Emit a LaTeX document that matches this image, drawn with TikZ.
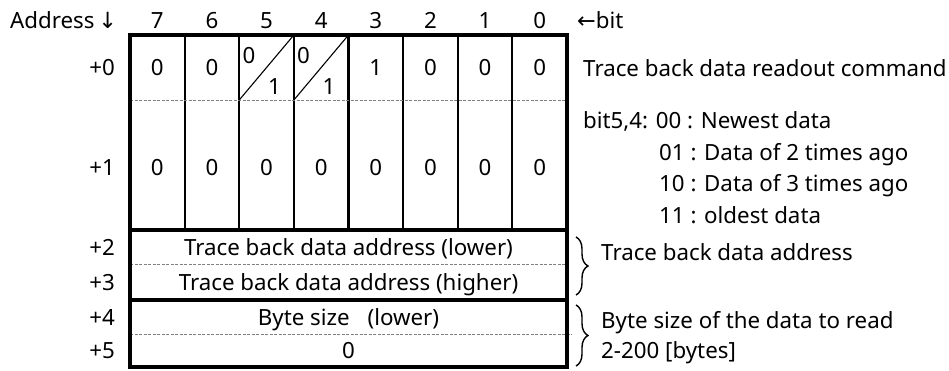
\documentclass[tikz,border=0pt]{standalone}
\usepackage{fontspec}
\setmainfont{Noto Sans}
\newfontfamily\arr{DejaVu Sans}
\usetikzlibrary{decorations.pathreplacing}
\begin{document}
\begin{tikzpicture}[x=1pt,y=-1pt,
  font=\fontsize{22.3}{25}\selectfont,
  lbl/.style={inner sep=0pt, anchor=base},
  lblw/.style={inner sep=0pt, anchor=base west},
  lble/.style={inner sep=0pt, anchor=base east},
  outer/.style={line width=3.4pt},
  inner/.style={line width=2.2pt},
  dashline/.style={draw=gray, line width=1pt, dash pattern=on 3pt off 1.5pt},
  bracey/.style={decorate, decoration={brace, amplitude=12pt, aspect=0.5}, line width=1.4pt}]
\useasboundingbox (0,0) rectangle (949,370);
% header
\node[lblw] (addr) at (10,28) {Address\,{\arr↓}};
\foreach \i/\b in {0/7,1/6,2/5,3/4,4/3,5/2,6/1,7/0}{
  \node[lbl] (b\b) at ({130+54.625*\i+27.3},28) {\b};
}
\node[lblw] (bitlbl) at (577,28) {{\arr←}bit};
% grid
\foreach \i in {1,...,7}{
  \draw[inner] ({130+54.625*\i},35) -- ({130+54.625*\i},230);
}
\draw[dashline] (130,100) -- (567,100);
\draw[dashline] (130,264) -- (567,264);
\draw[dashline] (130,334) -- (572,334);
\draw[line width=1.1pt] (239.25,100) -- (293.875,35);
\draw[line width=1.1pt] (293.875,100) -- (348.5,35);
\draw[outer] (130,230) -- (567,230);
\draw[outer] (130,300) -- (567,300);
\draw[outer] (130,35) rectangle (567,367);
% row labels
\node[lble] (r0) at (115,75.5) {+0};
\node[lble] (r1) at (115,175) {+1};
\node[lble] (r2) at (115,255) {+2};
\node[lble] (r3) at (115,290) {+3};
\node[lble] (r4) at (115,325) {+4};
\node[lble] (r5) at (115,358) {+5};
% row 0
\foreach \i/\v in {0/0,1/0,4/1,5/0,6/0,7/0}{
  \node[lbl] (c0\i) at ({130+54.625*\i+27.3},75.5) {\v};
}
\node[lbl] (c02a) at (249,63) {0};
\node[lbl] (c02b) at (274.5,94) {1};
\node[lbl] (c03a) at (303.6,63) {0};
\node[lbl] (c03b) at (329.1,94) {1};
% row 1
\foreach \i in {0,...,7}{
  \node[lbl] (c1\i) at ({130+54.625*\i+27.3},175) {0};
}
% rows 2-5
\node[lbl] (t2) at (348.5,255) {Trace back data address (lower)};
\node[lbl] (t3) at (348.5,290) {Trace back data address (higher)};
\node[lbl] (t4) at (348.5,325) {Byte size\hspace{0.8em}(lower)};
\node[lbl] (t5) at (348.5,358) {0};
% right side
\node[lblw] (d0) at (583,76) {Trace back data readout command};
\node[lblw] (d1) at (583,128) {bit5,4: 00 : Newest data};
\node[lblw] (d2) at (659,160) {01 : Data of 2 times ago};
\node[lblw] (d3) at (659,191) {10 : Data of 3 times ago};
\node[lblw] (d4) at (659,223) {11 : oldest data};
\coordinate (br1a) at (576,237);
\coordinate (br1b) at (576,295);
\coordinate (br2a) at (576,305);
\coordinate (br2b) at (576,366);
\draw[bracey] (br1a) -- (br1b);
\draw[bracey] (br2a) -- (br2b);
\node[lblw] (e1) at (601,260) {Trace back data address};
\node[lblw] (e2) at (601,328) {Byte size of the data to read};
\node[lblw] (e3) at (601,358) {2-200 [bytes]};
\end{tikzpicture}
\end{document}
